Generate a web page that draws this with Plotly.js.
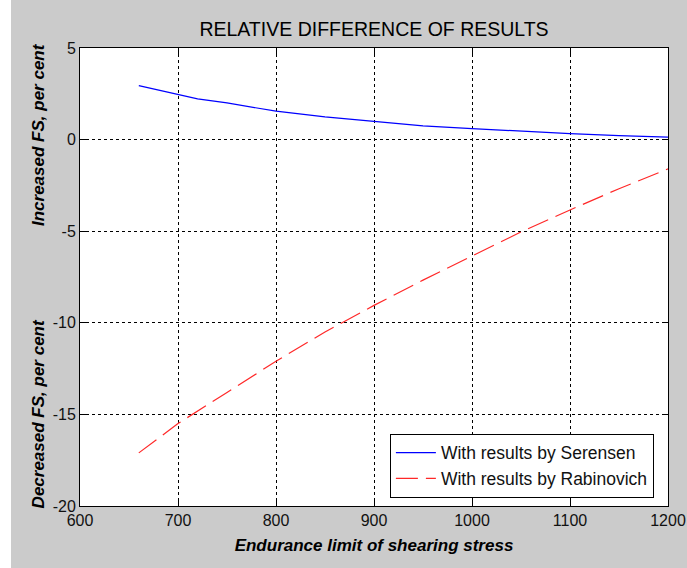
<!DOCTYPE html>
<html>
<head>
<meta charset="utf-8">
<script src="https://cdn.plot.ly/plotly-3.0.1.min.js"></script>
<style>
  html, body { margin: 0; padding: 0; background: #ffffff; width: 687px; height: 568px; overflow: hidden; }
  #chart { position: absolute; left: 11px; top: 0px; width: 676px; height: 568px; }
</style>
</head>
<body>
<div id="chart"></div>
<script>
const xSerensen = [660, 700, 720, 750, 800, 850, 900, 950, 1000, 1050, 1100, 1150, 1200];
const ySerensen = [2.95, 2.46, 2.22, 2.0, 1.55, 1.24, 0.98, 0.75, 0.6, 0.45, 0.33, 0.22, 0.14];
const xRabinovich = [660, 700, 750, 800, 850, 900, 950, 1000, 1050, 1100, 1150, 1200];
const yRabinovich = [-17.1, -15.5, -13.8, -12.1, -10.5, -9.05, -7.67, -6.34, -5.04, -3.84, -2.68, -1.6];
const xTicks = [600, 700, 800, 900, 1000, 1100, 1200];
const yTicks = [-20, -15, -10, -5, 0, 5];
const titleText = "RELATIVE DIFFERENCE OF RESULTS";
const xLabel = "Endurance limit of shearing stress";
const yLabelUp = "Increased FS, per cent";
const yLabelDown = "Decreased FS, per cent";
const names = ["With results by Serensen", "With results by Rabinovich"];

const font = "Arial, 'Liberation Sans', sans-serif";

const traces = [
  { x: xSerensen, y: ySerensen, type: 'scatter', mode: 'lines', name: names[0],
    line: { color: '#0000ff', width: 1.2 } },
  { x: xRabinovich, y: yRabinovich, type: 'scatter', mode: 'lines', name: names[1],
    line: { color: '#ff2828', width: 1.2, dash: '22px,8px' } }
];

const axisCommon = {
  showline: true, linecolor: '#000', linewidth: 1, mirror: 'ticks',
  ticks: 'inside', ticklen: 6, tickcolor: '#000', tickwidth: 1,
  showgrid: true, gridcolor: '#000', gridwidth: 1, griddash: '3px,3px',
  zeroline: false, tickfont: { family: font, size: 16, color: '#111' }
};

const layout = {
  width: 676, height: 568,
  paper_bgcolor: '#cbcbcb', plot_bgcolor: '#ffffff',
  margin: { l: 69, r: 19, t: 48, b: 62 },
  title: { text: titleText, font: { family: font, size: 19.5, color: '#000' },
           x: 0.5, xref: 'paper', xanchor: 'center', y: 1, yref: 'paper', yanchor: 'bottom', pad: { b: 12 } },
  xaxis: Object.assign({}, axisCommon, {
    range: [600, 1200], tickvals: xTicks, ticktext: xTicks.map(String),
    title: { text: '<b><i>' + xLabel + '</i></b>', font: { family: font, size: 17, color: '#000' }, standoff: 10 }
  }),
  yaxis: Object.assign({}, axisCommon, {
    range: [-20, 5], tickvals: yTicks, ticktext: yTicks.map(String)
  }),
  showlegend: true,
  legend: { x: 0.976, xanchor: 'right', y: 0.018, yanchor: 'bottom',
            bgcolor: '#ffffff', bordercolor: '#000', borderwidth: 1, itemwidth: 40,
            font: { family: font, size: 17.5, color: '#111' }, tracegroupgap: 0 },
  annotations: [
    { text: '<b><i>' + yLabelUp + '</i></b>', xref: 'paper', yref: 'paper', x: 0, y: 0.81,
      xshift: -42, xanchor: 'center', yanchor: 'middle', textangle: -90, showarrow: false,
      font: { family: font, size: 17, color: '#000' } },
    { text: '<b><i>' + yLabelDown + '</i></b>', xref: 'paper', yref: 'paper', x: 0, y: 0.2,
      xshift: -42, xanchor: 'center', yanchor: 'middle', textangle: -90, showarrow: false,
      font: { family: font, size: 17, color: '#000' } }
  ]
};

Plotly.newPlot('chart', traces, layout, { displayModeBar: false, staticPlot: true });
</script>
</body>
</html>
